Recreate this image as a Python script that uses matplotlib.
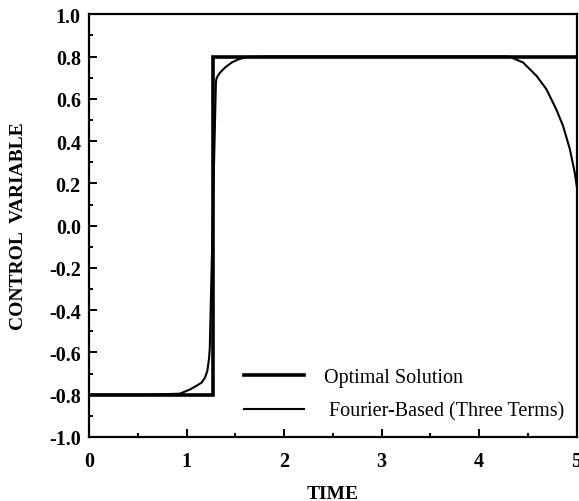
import numpy as np
import matplotlib.pyplot as plt
from matplotlib.ticker import MultipleLocator

# optimal (bang-bang) control
opt_t = [0.0, 1.265, 1.265, 5.0]
opt_u = [-0.8, -0.8, 0.8, 0.8]

# fourier-based approximation, three terms
four_t = [0.0, 0.60, 0.93, 1.035, 1.103, 1.155, 1.189, 1.212, 1.229, 1.237,
          1.300, 1.308, 1.342, 1.393, 1.462, 1.530, 1.616, 1.80, 4.00, 4.31,
          4.45, 4.59, 4.69, 4.79, 4.86, 4.93, 4.98, 5.0]
four_u = [-0.8, -0.8, -0.795, -0.775, -0.757, -0.742, -0.718, -0.687, -0.631,
          -0.58, 0.68, 0.70, 0.724, 0.748, 0.772, 0.787, 0.798, 0.80, 0.80,
          0.80, 0.772, 0.708, 0.645, 0.551, 0.472, 0.362, 0.251, 0.188]

plt.rcParams['font.family'] = ['Liberation Serif', 'DejaVu Serif']

fig = plt.figure(figsize=(5.79, 5.02), dpi=100)
ax = fig.add_axes([0.154, 0.1275, 0.842, 0.842])

ax.plot(opt_t, opt_u, color='black', lw=2.6, label='Optimal Solution',
        solid_joinstyle='miter')
ax.plot(four_t, four_u, color='black', lw=1.5,
        label=' Fourier-Based (Three Terms)')

ax.set_xlim(0, 5)
ax.set_ylim(-1.0, 1.0)
ax.xaxis.set_major_locator(MultipleLocator(1))
ax.xaxis.set_minor_locator(MultipleLocator(0.5))
ax.yaxis.set_minor_locator(MultipleLocator(0.1))
yt = np.round(np.arange(-1.0, 1.01, 0.2), 1)
ax.set_yticks(yt)
ax.set_yticklabels(['%.1f' % (v + 0.0) for v in yt])

ax.tick_params(which='both', direction='in', top=False, right=False,
               labelsize=14.5, width=1.4, pad=6)
ax.tick_params(axis='x', which='major', pad=10)
ax.tick_params(which='major', length=6)
ax.tick_params(which='minor', length=3)
for lab in ax.get_xticklabels() + ax.get_yticklabels():
    lab.set_fontweight('bold')
for s in ax.spines.values():
    s.set_linewidth(1.6)

ax.set_xlabel('TIME', fontsize=14, fontweight='bold', labelpad=10)
ax.set_ylabel('CONTROL  VARIABLE', fontsize=14, fontweight='bold', labelpad=16)

ax.legend(loc='lower left', bbox_to_anchor=(0.28, -0.005), frameon=False,
          fontsize=14.5, handlelength=3.0, handletextpad=1.0, labelspacing=0.75)

fig.savefig('out.png', dpi=100)
